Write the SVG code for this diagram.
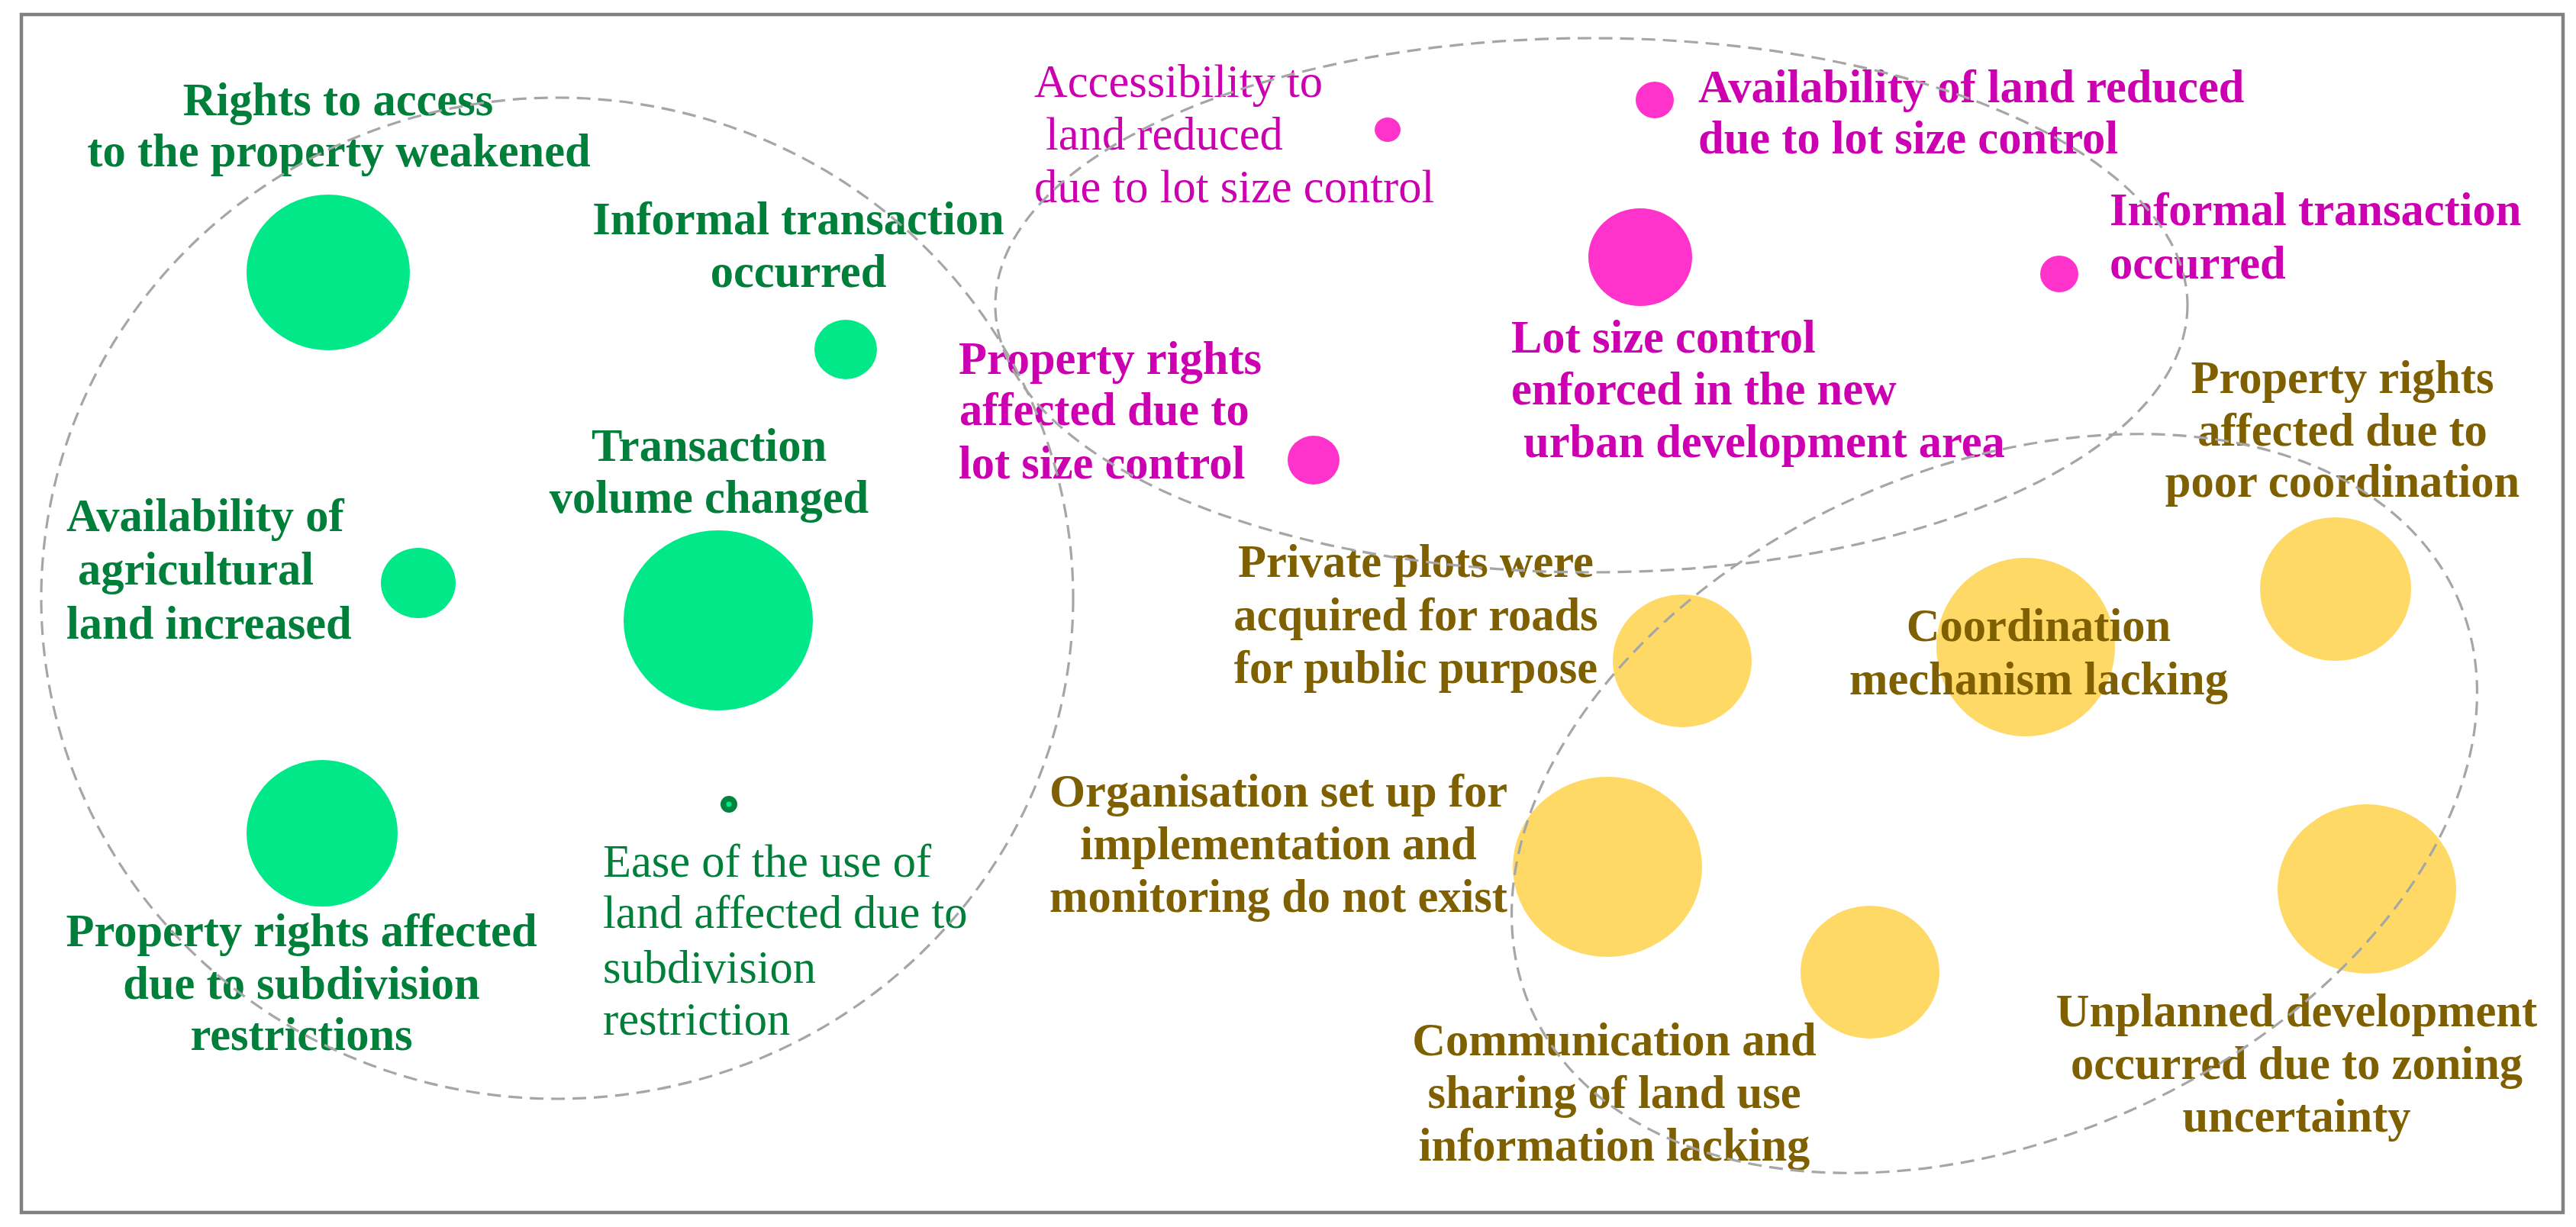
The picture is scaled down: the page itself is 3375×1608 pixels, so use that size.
<svg xmlns="http://www.w3.org/2000/svg" width="3375" height="1608" viewBox="0 0 3375 1608">
<style>
text{font-family:"Liberation Serif","Times New Roman",serif;font-size:60.5px}
.b{font-weight:bold}
.c{text-anchor:middle}
.g{fill:#007F3A}
.m{fill:#CC00B0}
.y{fill:#7F6000}
.gc{fill:#00E887}
.mc{fill:#FF33CC}
.yc{fill:#FFD966}
.cl{fill:none;stroke:#A6A6A6;stroke-width:3.2;stroke-dasharray:18 10}
</style>
<rect x="0" y="0" width="3375" height="1608" fill="#FFFFFF"/>
<rect x="28" y="19" width="3330" height="1570" fill="#FFFFFF" stroke="#808080" stroke-width="4.5"/>

<g id="g-rights-access">
<ellipse class="gc" cx="430" cy="357" rx="107" ry="102"/>
<text class="b c g" x="443" y="151">Rights to access</text>
<text class="b c g" x="444" y="218">to the property weakened</text>
</g>
<g id="g-informal">
<ellipse class="gc" cx="1108" cy="458" rx="41" ry="39"/>
<text class="b c g" x="1046" y="307">Informal transaction</text>
<text class="b c g" x="1046" y="376">occurred</text>
</g>
<g id="g-volume">
<ellipse class="gc" cx="941" cy="813" rx="124" ry="118"/>
<text class="b c g" x="929" y="604">Transaction</text>
<text class="b c g" x="929" y="672">volume changed</text>
</g>
<g id="g-agri">
<ellipse class="gc" cx="548" cy="764" rx="49" ry="46"/>
<text class="b g" x="87" y="696">Availability of</text>
<text class="b g" x="102" y="766">agricultural</text>
<text class="b g" x="87" y="837">land increased</text>
</g>
<g id="g-subdiv">
<ellipse class="gc" cx="422" cy="1092" rx="99" ry="96"/>
<text class="b c g" x="395" y="1240">Property rights affected</text>
<text class="b c g" x="395" y="1309">due to subdivision</text>
<text class="b c g" x="395" y="1376">restrictions</text>
</g>
<g id="g-ease">
<circle cx="955" cy="1054" r="11" fill="#00833E"/>
<circle cx="955" cy="1054" r="3.5" fill="#00E887"/>
<text class="g" x="790" y="1149">Ease of the use of</text>
<text class="g" x="790" y="1216">land affected due to</text>
<text class="g" x="790" y="1288">subdivision</text>
<text class="g" x="790" y="1356">restriction</text>
</g>

<g id="m-access">
<ellipse class="mc" cx="1818" cy="170" rx="17" ry="16"/>
<text class="m" x="1355" y="127">Accessibility to</text>
<text class="m" x="1370" y="196">land reduced</text>
<text class="m" x="1355" y="265">due to lot size control</text>
</g>
<g id="m-avail">
<ellipse class="mc" cx="2168" cy="131" rx="25" ry="24"/>
<text class="b m" x="2225" y="134">Availability of land reduced</text>
<text class="b m" x="2225" y="201">due to lot size control</text>
</g>
<g id="m-lot">
<ellipse class="mc" cx="2149" cy="337" rx="68" ry="64"/>
<text class="b m" x="1980" y="462">Lot size control</text>
<text class="b m" x="1980" y="530">enforced in the new</text>
<text class="b m" x="1996" y="599">urban development area</text>
</g>
<g id="m-informal">
<ellipse class="mc" cx="2698" cy="359" rx="25" ry="24"/>
<text class="b m" x="2764" y="295">Informal transaction</text>
<text class="b m" x="2764" y="365">occurred</text>
</g>
<g id="m-property">
<ellipse class="mc" cx="1721" cy="603" rx="34" ry="32"/>
<text class="b m" x="1256" y="490">Property rights</text>
<text class="b m" x="1257" y="557">affected due to</text>
<text class="b m" x="1256" y="627">lot size control</text>
</g>

<g id="y-poor">
<ellipse class="yc" cx="3060" cy="772" rx="99" ry="94"/>
<text class="b c y" x="3069" y="515">Property rights</text>
<text class="b c y" x="3069" y="584">affected due to</text>
<text class="b c y" x="3069" y="651">poor coordination</text>
</g>
<g id="y-private">
<ellipse class="yc" cx="2204" cy="866" rx="91" ry="87"/>
<text class="b c y" x="1855" y="756">Private plots were</text>
<text class="b c y" x="1855" y="826">acquired for roads</text>
<text class="b c y" x="1855" y="895">for public purpose</text>
</g>
<g id="y-coord">
<ellipse class="yc" cx="2654" cy="848" rx="117" ry="117"/>
<text class="b c y" x="2671" y="840">Coordination</text>
<text class="b c y" x="2671" y="910">mechanism lacking</text>
</g>
<g id="y-org">
<ellipse class="yc" cx="2106" cy="1136" rx="124" ry="118"/>
<text class="b c y" x="1675" y="1057">Organisation set up for</text>
<text class="b c y" x="1675" y="1126">implementation and</text>
<text class="b c y" x="1675" y="1195">monitoring do not exist</text>
</g>
<g id="y-comm">
<ellipse class="yc" cx="2450" cy="1274" rx="91" ry="87"/>
<text class="b c y" x="2115" y="1383">Communication and</text>
<text class="b c y" x="2115" y="1452">sharing of land use</text>
<text class="b c y" x="2115" y="1521">information lacking</text>
</g>
<g id="y-unplanned">
<ellipse class="yc" cx="3101" cy="1165" rx="117" ry="111"/>
<text class="b c y" x="3009" y="1345">Unplanned development</text>
<text class="b c y" x="3009" y="1414">occurred due to zoning</text>
<text class="b c y" x="3009" y="1483">uncertainty</text>
</g>

<g id="clusters">
<ellipse class="cl" cx="730" cy="784" rx="676" ry="656"/>
<ellipse class="cl" cx="2085" cy="400" rx="781" ry="350"/>
<ellipse class="cl" cx="2613" cy="1053" rx="664" ry="440" transform="rotate(-24 2613 1053)"/>
</g>
</svg>
